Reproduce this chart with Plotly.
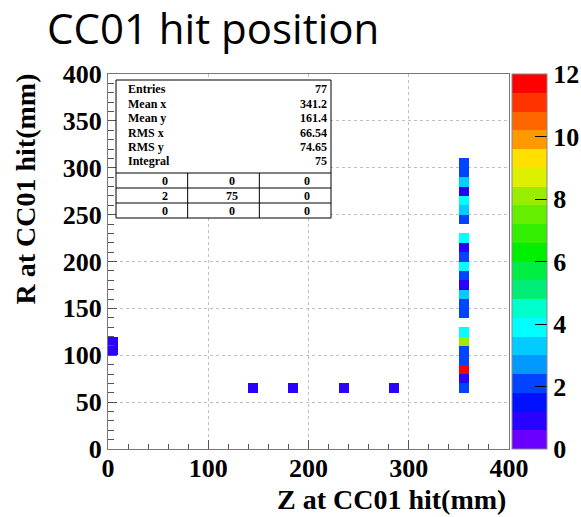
import plotly.graph_objects as go

# ---------------- data ----------------
bin_width = 10
n_bins = 40
# column of hits at Z = 350-360 mm
col_z = 350
col_r = [60, 70, 80, 90, 100, 110, 120, 140, 150, 160, 170, 180, 190, 200,
         210, 220, 240, 250, 260, 270, 280, 290, 300]
col_counts = [2, 1, 12, 2, 2, 8, 4, 2, 2, 3, 1, 2, 4, 2,
              1, 4, 2, 3, 4, 1, 3, 2, 2]
# row of hits at R = 60-70 mm
row_r = 60
row_z = [140, 180, 230, 280]
row_counts = [1, 1, 1, 1]
# hits at Z = 0-10 mm
left_z = 0
left_r = [100, 110]
left_counts = [1, 1]

stat_names = ["Entries", "Mean x", "Mean y", "RMS x", "RMS y", "Integral"]
stat_values = ["77", "341.2", "161.4", "66.54", "74.65", "75"]
table_cells = [["0", "0", "0"], ["2", "75", "0"], ["0", "0", "0"]]

x_ticks = [0, 100, 200, 300, 400]
y_ticks = [0, 50, 100, 150, 200, 250, 300, 350, 400]
cbar_ticks = [0, 2, 4, 6, 8, 10, 12]

band_colors = ["#6a00ff", "#2a00ff", "#0011ff", "#0044ff", "#0099ff", "#00ccff",
               "#00ffff", "#00ffcc", "#00ee77", "#00ee44", "#00ee00", "#33ee00",
               "#66ee00", "#99ee00", "#ddf000", "#ffe000", "#ff9900", "#ff6600",
               "#ff3300", "#ff0000"]

# ---------------- build histogram ----------------
centers = [bin_width * i + bin_width / 2 for i in range(n_bins)]
z = [[None] * n_bins for _ in range(n_bins)]
for r, c in zip(col_r, col_counts):
    z[r // bin_width][col_z // bin_width] = c
for zz, c in zip(row_z, row_counts):
    z[row_r // bin_width][zz // bin_width] = c
for r, c in zip(left_r, left_counts):
    z[r // bin_width][left_z // bin_width] = c

nb = len(band_colors)
eps = 1e-4
colorscale = []
for i, col in enumerate(band_colors):
    lo = 0.0 if i == 0 else i / nb - eps
    hi = 1.0 if i == nb - 1 else (i + 1) / nb - eps
    colorscale.append([lo, col])
    colorscale.append([hi, col])

# ---------------- geometry ----------------
W, H = 581, 517
L, R, T, B = 108, 509, 74, 449
pw, ph = R - L, B - T


def xp(px):
    return (px - L) / pw


def yp(py):
    return (B - py) / ph


serif = "Liberation Serif"
bold_font = dict(family=serif, size=26, color="black", weight="bold")

fig = go.Figure()
fig.add_trace(go.Heatmap(
    x=centers, y=centers, z=z, zmin=0, zmax=12,
    colorscale=colorscale, hoverongaps=False,
    colorbar=dict(
        thickness=35, thicknessmode="pixels", len=1.0, lenmode="fraction",
        x=xp(512), xanchor="left", xpad=0, y=0.5, yanchor="middle", ypad=0,
        outlinewidth=1, outlinecolor="#888888",
        tickmode="array", tickvals=cbar_ticks, ticks="inside", ticklen=12,
        tickcolor="black", tickfont=dict(family=serif, size=26, color="black", weight="bold"),
    ),
))

axis_common = dict(
    showline=True, linecolor="#777777", linewidth=1, mirror=True,
    showgrid=True, gridcolor="#c0c0c0", griddash="dot", gridwidth=1,
    zeroline=False, ticks="inside", tickcolor="#555555", ticklen=9,
    tickfont=bold_font,
)
fig.update_layout(
    width=W, height=H,
    margin=dict(l=L, r=W - R, t=T, b=H - B, autoexpand=False),
    paper_bgcolor="white", plot_bgcolor="white",
    xaxis=dict(range=[0, 400], tickmode="array", tickvals=x_ticks, ticklabelstandoff=-4,
               minor=dict(dtick=20, ticks="inside", ticklen=5, tickcolor="#555555", showgrid=False),
               **axis_common),
    yaxis=dict(range=[0, 400], tickmode="array", tickvals=y_ticks,
               minor=dict(dtick=10, ticks="inside", ticklen=6, tickcolor="#555555", showgrid=False),
               **axis_common),
    showlegend=False,
)

shapes = []
annotations = []

# title
annotations.append(dict(text="CC01 hit position", x=xp(45), y=yp(27), xref="paper", yref="paper",
                        xanchor="left", yanchor="middle", showarrow=False,
                        font=dict(family="Open Sans", size=42, color="black")))
# axis titles
annotations.append(dict(text="Z at CC01 hit(mm)", x=xp(508), y=yp(499), xref="paper", yref="paper",
                        xanchor="right", yanchor="middle", showarrow=False,
                        font=dict(family=serif, size=28, color="black", weight="bold")))
annotations.append(dict(text="R at CC01 hit(mm)", x=xp(25), y=yp(72), xref="paper", yref="paper",
                        xanchor="center", yanchor="top", textangle=-90, showarrow=False,
                        font=dict(family=serif, size=28, color="black", weight="bold")))

# stats box
bx0, bx1, by0, by1 = 116, 331, 80, 218
shapes.append(dict(type="rect", xref="paper", yref="paper", x0=xp(bx0), x1=xp(bx1),
                   y0=yp(by1), y1=yp(by0), line=dict(color="black", width=1),
                   fillcolor="white", layer="above"))
row_ys = [89, 103.5, 118, 132.5, 147, 160.5]
small = dict(family=serif, size=12, color="black", weight="bold")
for name, val, yy in zip(stat_names, stat_values, row_ys):
    annotations.append(dict(text=name, x=xp(126), y=yp(yy), xref="paper", yref="paper",
                            xanchor="left", yanchor="middle", showarrow=False, font=small))
    annotations.append(dict(text=val, x=xp(329), y=yp(yy), xref="paper", yref="paper",
                            xanchor="right", yanchor="middle", showarrow=False, font=small))
line_ys = [173, 188, 203]
for ly in line_ys:
    shapes.append(dict(type="line", xref="paper", yref="paper", x0=xp(bx0), x1=xp(bx1),
                       y0=yp(ly), y1=yp(ly), line=dict(color="black", width=1), layer="above"))
col_w = (bx1 - bx0) / 3
for k in (1, 2):
    vx = bx0 + k * col_w
    shapes.append(dict(type="line", xref="paper", yref="paper", x0=xp(vx), x1=xp(vx),
                       y0=yp(by1), y1=yp(173), line=dict(color="black", width=1), layer="above"))
cell_xs = [165, 232, 307]
cell_ys = [180.5, 195.5, 210.5]
for row, cy in zip(table_cells, cell_ys):
    for txt, cx in zip(row, cell_xs):
        annotations.append(dict(text=txt, x=xp(cx), y=yp(cy), xref="paper", yref="paper",
                                xanchor="center", yanchor="middle", showarrow=False, font=small))

fig.update_layout(shapes=shapes, annotations=annotations)
fig.write_html("out.html")
